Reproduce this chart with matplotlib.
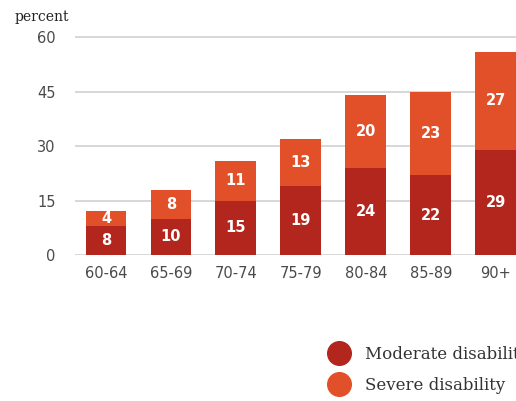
import matplotlib.pyplot as plt
from matplotlib.lines import Line2D

# disability prevalence by age group, percent
age_groups = ["60-64", "65-69", "70-74", "75-79", "80-84", "85-89", "90+"]
moderate = [8, 10, 15, 19, 24, 22, 29]
severe = [4, 8, 11, 13, 20, 23, 27]
y_ticks = [0, 15, 30, 45, 60]

c_moderate = "#B2261D"
c_severe = "#E2502A"
grey_text = "#4a4a4a"

fig = plt.figure(figsize=(5.16, 4.01), dpi=100)
ax = fig.add_axes([75 / 516, (401 - 255) / 401, 1 - 75 / 516, 220 / 401])

x = range(len(age_groups))
w = 0.63
b1 = ax.bar(x, moderate, width=w, color=c_moderate, zorder=2)
b2 = ax.bar(x, severe, width=w, bottom=moderate, color=c_severe, zorder=2)

for bars, vals, base in [(b1, moderate, [0] * len(moderate)), (b2, severe, moderate)]:
    for rect, v, b in zip(bars, vals, base):
        ax.text(rect.get_x() + rect.get_width() / 2, b + v / 2, str(v),
                ha="center", va="center", color="white", fontsize=10.5,
                fontweight="semibold", zorder=3)

ax.set_xlim(-0.477, 6.31)
ax.set_ylim(0, 60.6)
ax.set_yticks(y_ticks)
ax.set_xticks(list(x))
ax.set_xticklabels(age_groups)
ax.yaxis.grid(True, color="#d4d4d4", linewidth=1.3, zorder=0)
ax.set_axisbelow(True)
for s in ax.spines.values():
    s.set_visible(False)
ax.tick_params(length=0, labelsize=10.5, colors=grey_text)
ax.tick_params(axis="y", pad=14)
ax.tick_params(axis="x", pad=8)

fig.text(15 / 516, 1 - 17 / 401, "percent", family="DejaVu Serif",
         fontsize=10, color="#222222", va="center")

# legend runs off the right edge, as the chart does
handles = [
    Line2D([], [], marker="o", linestyle="none", markersize=17,
           markerfacecolor=c_moderate, markeredgecolor=c_moderate),
    Line2D([], [], marker="o", linestyle="none", markersize=17,
           markerfacecolor=c_severe, markeredgecolor=c_severe),
]
fig.legend(handles, ["Moderate disability", "Severe disability"],
           loc="upper left", bbox_to_anchor=(316 / 516, 1 - 339 / 401),
           frameon=False, prop={"family": "DejaVu Serif", "size": 12},
           labelcolor="#333333", handletextpad=0.55, labelspacing=0.85,
           borderaxespad=0)

fig.savefig("out.png", dpi=100)
